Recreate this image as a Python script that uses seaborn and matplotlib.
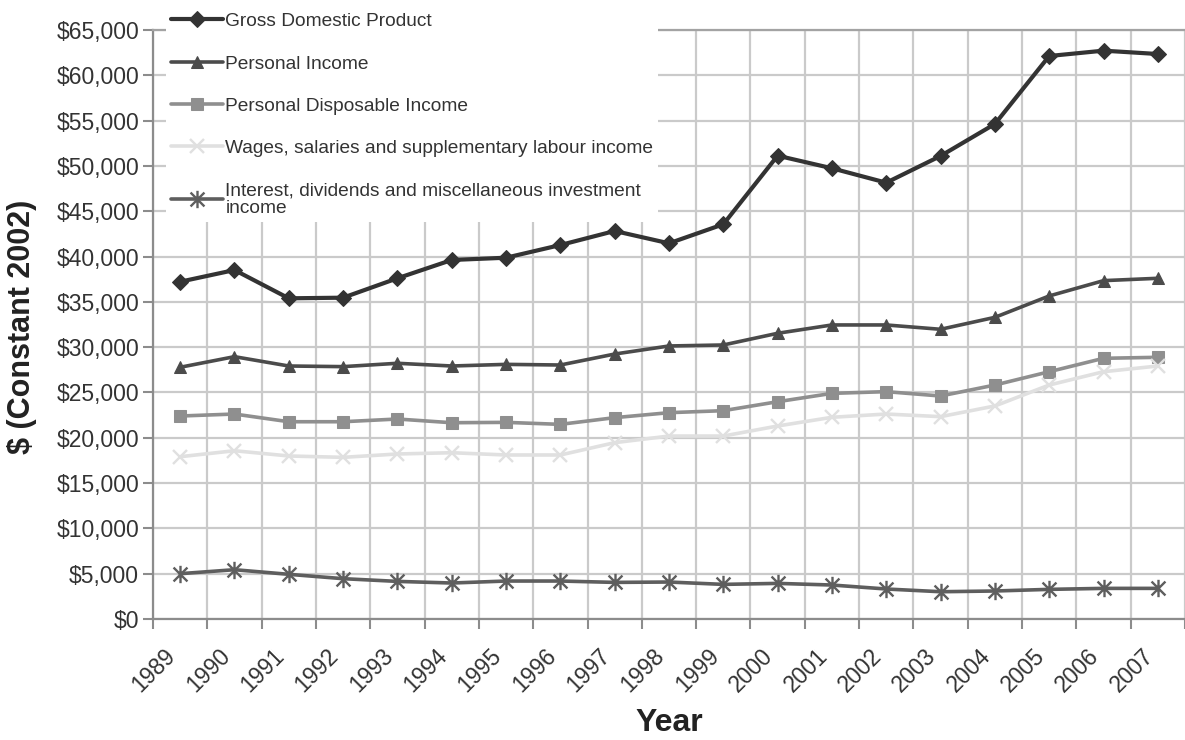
import numpy as np
import pandas as pd
import matplotlib
matplotlib.use("Agg")
import matplotlib.pyplot as plt
import matplotlib.transforms as mtransforms
from matplotlib.path import Path
from matplotlib.ticker import MultipleLocator, FuncFormatter
import seaborn as sns

# ---- data: real dollars per capita, constant 2002 prices ----
years = [str(y) for y in range(1989, 2008)]

gdp = [37220, 38510, 35390, 35460, 37600, 39620, 39870, 41270, 42820, 41460,
       43560, 51130, 49740, 48150, 51100, 54630, 62130, 62720, 62350]
personal_income = [27780, 28950, 27920, 27850, 28220, 27920, 28100, 28030, 29240, 30130,
                   30240, 31530, 32450, 32450, 31970, 33290, 35650, 37340, 37600]
disposable_income = [22400, 22620, 21770, 21770, 22070, 21660, 21700, 21480, 22220, 22770,
                     22990, 23980, 24900, 25090, 24610, 25820, 27290, 28770, 28880]
wages = [17910, 18570, 17990, 17840, 18210, 18350, 18100, 18100, 19460, 20190,
         20190, 21300, 22260, 22620, 22330, 23510, 25820, 27290, 27920]
investment = [5000, 5440, 4930, 4450, 4150, 3970, 4190, 4190, 4040, 4080,
              3820, 3930, 3750, 3310, 3010, 3090, 3270, 3380, 3380]

series_names = [
    "Gross Domestic Product",
    "Personal Income",
    "Personal Disposable Income",
    "Wages, salaries and supplementary labour income",
    "Interest, dividends and miscellaneous investment\nincome",
]
series_values = [gdp, personal_income, disposable_income, wages, investment]

# asterisk marker: vertical bar plus a cross
star = Path([(0, -1), (0, 1), (-0.8, -0.8), (0.8, 0.8), (-0.8, 0.8), (0.8, -0.8)],
            [Path.MOVETO, Path.LINETO] * 3)

styles = [
    dict(color="#333333", marker="D", markersize=8, linewidth=3.0),
    dict(color="#4b4b4b", marker="^", markersize=8.5, linewidth=2.6),
    dict(color="#8f8f8f", marker="s", markersize=8, linewidth=2.6),
    dict(color="#e0e0e0", marker="x", markersize=10.5, linewidth=2.6, markeredgewidth=1.7),
    dict(color="#5e5e5e", marker=star, markersize=12.5, linewidth=2.6, markeredgewidth=1.7),
]

sns.set_theme(style="white")
plt.rcParams["font.family"] = ["Liberation Sans", "DejaVu Sans"]

W, H = 1185, 740
fig = plt.figure(figsize=(W / 100, H / 100), dpi=100)
ax = fig.add_axes([153 / W, 1 - 619 / H, (1185 - 153) / W, (619 - 30) / H])

for name, vals, st in zip(series_names, series_values, styles):
    df = pd.DataFrame({"Year": years, "Value": vals})
    sns.lineplot(data=df, x="Year", y="Value", ax=ax, label=name, sort=False,
                 markeredgecolor=st["color"], **st)

ax.set_xlim(-0.5, len(years) - 0.5)
ax.set_ylim(0, 65000)

# grid: horizontal at each $5,000, vertical between the years
grid_col = "#cacaca"
ax.yaxis.set_major_locator(MultipleLocator(5000))
ax.yaxis.set_major_formatter(FuncFormatter(lambda v, p: f"${v:,.0f}"))
ax.set_xticks(np.arange(-0.5, len(years), 1), minor=True)
ax.set_axisbelow(True)
ax.grid(which="major", axis="y", color=grid_col, linewidth=1.6)
ax.grid(which="minor", axis="x", color=grid_col, linewidth=1.6)
ax.grid(which="major", axis="x", visible=False)

axis_col = "#8c8c8c"
ax.tick_params(axis="y", which="major", length=7, width=1.5, color=axis_col,
               pad=3, labelsize=16.5, labelcolor="#333333", left=True)
ax.tick_params(axis="x", which="major", length=0, pad=24, labelsize=16.5,
               labelcolor="#333333", labelrotation=45)
ax.tick_params(axis="x", which="minor", length=7, width=1.5, color=axis_col, bottom=True)
shift = mtransforms.ScaledTranslation(-8 / 100, 0, fig.dpi_scale_trans)
for lbl in ax.get_xticklabels():
    lbl.set_ha("right")
    lbl.set_va("center")
    lbl.set_rotation_mode("anchor")
    lbl.set_transform(lbl.get_transform() + shift)

for side in ("left", "bottom"):
    ax.spines[side].set_color(axis_col)
    ax.spines[side].set_linewidth(1.6)
ax.spines["top"].set_color("#a3a3a3")
ax.spines["top"].set_linewidth(1.6)
ax.spines["right"].set_visible(False)

ax.set_ylabel("$ (Constant 2002)", fontsize=22, fontweight="bold", color="#222222")
ax.yaxis.label.set_va("center")
ax.yaxis.set_label_coords((22 - 153) / 1032, (619 - 327) / 589)
ax.set_xlabel("Year", fontsize=23, fontweight="bold", color="#222222")
ax.xaxis.label.set_va("center")
ax.xaxis.set_label_coords(0.5, (619 - 723) / 589)

leg = ax.legend(loc="upper left", bbox_to_anchor=(166 / W, 1 - 8 / H),
                bbox_transform=fig.transFigure, fontsize=13.8, frameon=True,
                facecolor="white", edgecolor="none", framealpha=1.0, fancybox=False,
                borderpad=0.25, borderaxespad=0, handlelength=2.7, handletextpad=0.15,
                labelspacing=1.3)
for t in leg.get_texts():
    t.set_color("#333333")
    t.set_linespacing(1.05)

fig.savefig("out.png", dpi=100, facecolor="white")
